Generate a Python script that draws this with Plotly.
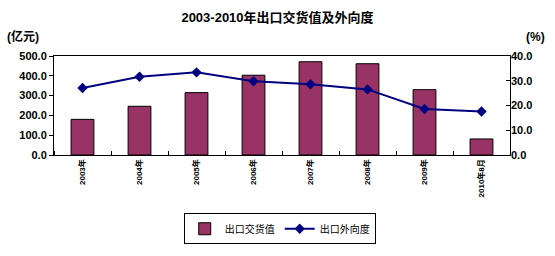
import plotly.graph_objects as go

categories = ["2003年", "2004年", "2005年", "2006年", "2007年", "2008年", "2009年", "2010年8月"]
export_value = [180, 246, 315, 403, 471, 461, 330, 81]
export_ratio = [27.1, 31.6, 33.4, 29.8, 28.6, 26.5, 18.6, 17.6]
left_ticks = [0, 100, 200, 300, 400, 500]
right_ticks = [0, 10, 20, 30, 40]

FONT = "Arial, 'Noto Sans CJK SC'"
x = list(range(len(categories)))

fig = go.Figure()
fig.add_trace(go.Bar(
    x=x, y=export_value, name="出口交货值", width=0.4,
    marker=dict(color="#993366", line=dict(color="#000000", width=1)),
))
fig.add_trace(go.Scatter(
    x=x, y=export_ratio, name="出口外向度", yaxis="y2", mode="lines+markers",
    line=dict(color="#000080", width=2),
    marker=dict(symbol="diamond", size=8, color="#000080"),
))

fig.update_layout(
    width=555, height=256,
    margin=dict(l=54, r=45, t=56, b=97),
    paper_bgcolor="white", plot_bgcolor="white",
    font=dict(family=FONT, color="black"),
    showlegend=True,
    title=dict(text="<b>2003-2010年出口交货值及外向度</b>", x=0.5, xanchor="center",
               y=1 - 17 / 256, yanchor="middle", font=dict(size=13, family=FONT)),
    xaxis=dict(
        range=[-0.5, len(categories) - 0.5],
        tickvals=x, ticktext=["<b>%s</b>" % c for c in categories],
        tickangle=-90, tickfont=dict(size=8, family=FONT),
        ticks="", showgrid=False, zeroline=False,
        showline=True, linecolor="black", linewidth=1, mirror=True,
        minor=dict(tick0=0.5, dtick=1, ticks="inside", ticklen=4, tickcolor="black", showgrid=False),
    ),
    yaxis=dict(
        range=[0, 500], tickvals=left_ticks,
        ticktext=["<b>%.1f</b>" % v for v in left_ticks],
        tickfont=dict(size=11, family=FONT),
        ticks="outside", ticklen=4, tickcolor="black",
        showgrid=False, zeroline=False,
        showline=True, linecolor="black", linewidth=1, mirror=True,
    ),
    yaxis2=dict(
        range=[0, 40], tickvals=right_ticks,
        ticktext=["<b>%.1f</b>" % v for v in right_ticks],
        tickfont=dict(size=11, family=FONT),
        overlaying="y", side="right",
        ticks="inside", ticklen=4, tickcolor="black",
        showgrid=False, zeroline=False, showline=False,
    ),
    legend=dict(
        orientation="h", x=0.495, xanchor="center", y=-0.745, yanchor="middle",
        bordercolor="black", borderwidth=1, font=dict(size=10, family=FONT),
        itemwidth=30, tracegroupgap=0,
    ),
    annotations=[
        dict(text="<b>(亿元)</b>", xref="paper", yref="paper", x=-49 / 456, xanchor="left",
             y=(159 - 36) / 103, yanchor="middle", showarrow=False, font=dict(size=12, family=FONT)),
        dict(text="<b>(%)</b>", xref="paper", yref="paper", x=1 + 37 / 456, xanchor="right",
             y=(159 - 36) / 103, yanchor="middle", showarrow=False, font=dict(size=12, family=FONT)),
    ],
    bargap=0.6,
)

fig.write_html("out.html")
